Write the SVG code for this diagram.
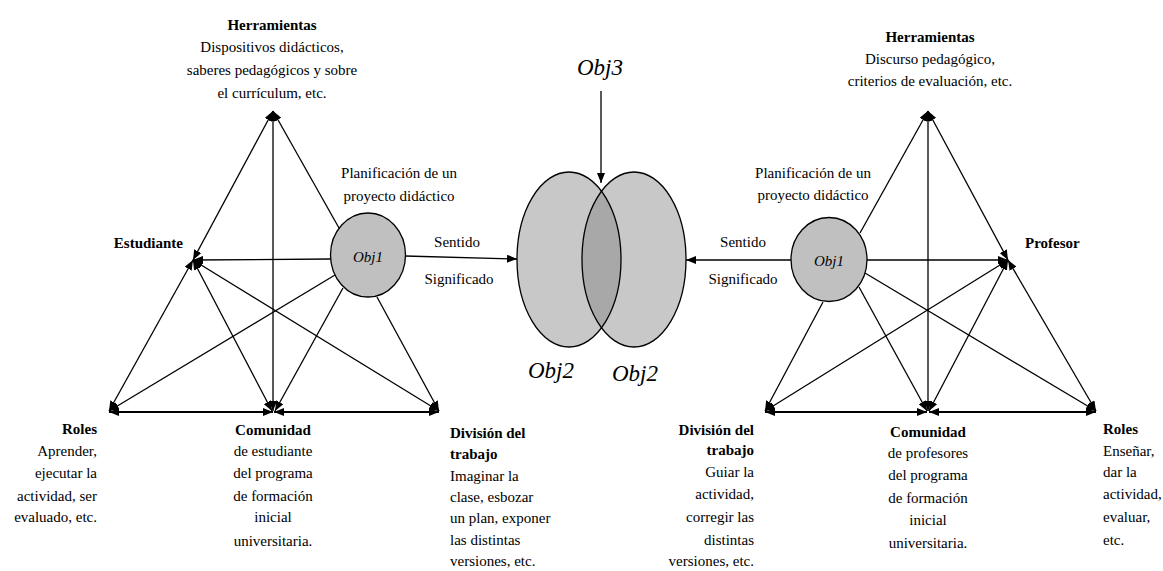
<svg xmlns="http://www.w3.org/2000/svg" width="1163" height="571" viewBox="0 0 1163 571" font-family="'Liberation Serif', Tinos, 'Times New Roman', Times, 'DejaVu Serif', serif">
<style>
text{font-family:'Liberation Serif', Tinos, 'Times New Roman', Times, 'DejaVu Serif', serif;font-size:15px;fill:#000}
.b{font-weight:bold}
.i{font-style:italic}
.big{font-size:23px;font-style:italic}
.c{text-anchor:middle}
.e{text-anchor:end}
.ln{stroke:#000;stroke-width:1.3;fill:none}
.bl{stroke:#000;stroke-width:2;fill:none}
.obj1{fill:#c0c0c0;stroke:#000;stroke-width:1.3}
</style>
<defs>
<marker id="ah" viewBox="0 0 10 8" refX="10" refY="4" markerWidth="10" markerHeight="8" markerUnits="userSpaceOnUse" orient="auto-start-reverse">
<path d="M0,0 L10,4 L0,8 z" fill="#000"/>
</marker>
<clipPath id="clipL"><ellipse cx="569" cy="259.5" rx="52" ry="87.5"/></clipPath>
</defs>
<rect width="1163" height="571" fill="#fff"/>

<g id="connectors">
<line class="ln" x1="273" y1="111" x2="193" y2="260" marker-start="url(#ah)" marker-end="url(#ah)"/>
<line class="ln" x1="273" y1="111" x2="273" y2="411" marker-start="url(#ah)" marker-end="url(#ah)"/>
<line class="ln" x1="339" y1="228" x2="273" y2="111" marker-end="url(#ah)"/>
<line class="ln" x1="331" y1="259" x2="193" y2="260" marker-end="url(#ah)"/>
<line class="ln" x1="193" y1="260" x2="109" y2="411" marker-start="url(#ah)" marker-end="url(#ah)"/>
<line class="ln" x1="193" y1="260" x2="272" y2="411" marker-start="url(#ah)" marker-end="url(#ah)"/>
<line class="ln" x1="193" y1="260" x2="439" y2="411" marker-start="url(#ah)" marker-end="url(#ah)"/>
<line class="ln" x1="335" y1="275" x2="109" y2="411" marker-end="url(#ah)"/>
<line class="ln" x1="343" y1="288" x2="275" y2="411" marker-end="url(#ah)"/>
<line class="ln" x1="377" y1="297" x2="439" y2="411" marker-end="url(#ah)"/>
<line class="bl" x1="109" y1="412" x2="273" y2="412" marker-start="url(#ah)" marker-end="url(#ah)"/>
<line class="bl" x1="274" y1="412" x2="439" y2="412" marker-start="url(#ah)" marker-end="url(#ah)"/>
<line class="ln" x1="928" y1="111" x2="1008" y2="260" marker-start="url(#ah)" marker-end="url(#ah)"/>
<line class="ln" x1="928" y1="111" x2="928" y2="411" marker-start="url(#ah)" marker-end="url(#ah)"/>
<line class="ln" x1="860" y1="233" x2="928" y2="111" marker-end="url(#ah)"/>
<line class="ln" x1="867" y1="260" x2="1008" y2="260" marker-end="url(#ah)"/>
<line class="ln" x1="1008" y1="260" x2="765" y2="411" marker-start="url(#ah)" marker-end="url(#ah)"/>
<line class="ln" x1="1008" y1="260" x2="929" y2="411" marker-start="url(#ah)" marker-end="url(#ah)"/>
<line class="ln" x1="1008" y1="260" x2="1096" y2="411" marker-start="url(#ah)" marker-end="url(#ah)"/>
<line class="ln" x1="823" y1="302" x2="765" y2="411" marker-end="url(#ah)"/>
<line class="ln" x1="859" y1="287" x2="927" y2="411" marker-end="url(#ah)"/>
<line class="ln" x1="865" y1="273" x2="1096" y2="411" marker-end="url(#ah)"/>
<line class="bl" x1="765" y1="412" x2="927" y2="412" marker-start="url(#ah)" marker-end="url(#ah)"/>
<line class="bl" x1="929" y1="412" x2="1096" y2="412" marker-start="url(#ah)" marker-end="url(#ah)"/>
<line class="ln" x1="405" y1="256" x2="517" y2="259" marker-end="url(#ah)"/>
<line class="ln" x1="791" y1="260" x2="686" y2="260" marker-end="url(#ah)"/>
<line class="ln" x1="601" y1="91" x2="601" y2="183" marker-end="url(#ah)"/>
</g>

<g id="obj2-venn">
<ellipse cx="569" cy="259.5" rx="52" ry="87.5" fill="#c8c8c8"/>
<ellipse cx="634" cy="259.5" rx="52" ry="87.5" fill="#c8c8c8"/>
<ellipse cx="634" cy="259.5" rx="52" ry="87.5" fill="#a8a8a8" clip-path="url(#clipL)"/>
<ellipse cx="569" cy="259.5" rx="52" ry="87.5" class="ln"/>
<ellipse cx="634" cy="259.5" rx="52" ry="87.5" class="ln"/>
<text class="big c" x="551" y="378">Obj2</text>
<text class="big c" x="635" y="381">Obj2</text>
</g>
<g id="obj3"><text class="big c" x="600" y="75">Obj3</text></g>

<g id="left-obj1">
<ellipse class="obj1" cx="368" cy="255" rx="37.5" ry="42"/>
<text class="i c" x="368" y="262">Obj1</text>
<text class="c" x="399" y="178">Planificación de un</text>
<text class="c" x="399" y="201">proyecto didáctico</text>
</g>
<g id="left-sentido">
<text class="c" x="457" y="247">Sentido</text>
<text class="c" x="459" y="284">Significado</text>
</g>
<g id="left-herramientas">
<text class="b c" x="272" y="30">Herramientas</text>
<text class="c" x="272" y="52">Dispositivos didácticos,</text>
<text class="c" x="272" y="75">saberes pedagógicos y sobre</text>
<text class="c" x="272" y="98">el currículum, etc.</text>
</g>
<g id="left-estudiante"><text class="b e" x="183" y="248">Estudiante</text></g>
<g id="left-roles">
<text class="b e" x="97" y="434">Roles</text>
<text class="e" x="97" y="456">Aprender,</text>
<text class="e" x="97" y="478">ejecutar la</text>
<text class="e" x="97" y="501">actividad, ser</text>
<text class="e" x="97" y="522">evaluado, etc.</text>
</g>
<g id="left-comunidad">
<text class="b c" x="273" y="435">Comunidad</text>
<text class="c" x="273" y="456">de estudiante</text>
<text class="c" x="273" y="478">del programa</text>
<text class="c" x="273" y="501">de formación</text>
<text class="c" x="273" y="522">inicial</text>
<text class="c" x="273" y="546">universitaria.</text>
</g>
<g id="left-division">
<text class="b" x="450" y="438">División del</text>
<text class="b" x="450" y="459">trabajo</text>
<text x="450" y="481">Imaginar la</text>
<text x="450" y="502">clase, esbozar</text>
<text x="450" y="523">un plan, exponer</text>
<text x="450" y="545">las distintas</text>
<text x="450" y="566">versiones, etc.</text>
</g>

<g id="right-obj1">
<ellipse class="obj1" cx="829" cy="259.5" rx="38" ry="42"/>
<text class="i c" x="829" y="266">Obj1</text>
<text class="c" x="813" y="178">Planificación de un</text>
<text class="c" x="813" y="200">proyecto didáctico</text>
</g>
<g id="right-sentido">
<text class="c" x="743" y="247">Sentido</text>
<text class="c" x="743" y="284">Significado</text>
</g>
<g id="right-herramientas">
<text class="b c" x="930" y="42">Herramientas</text>
<text class="c" x="930" y="64">Discurso pedagógico,</text>
<text class="c" x="930" y="86">criterios de evaluación, etc.</text>
</g>
<g id="right-profesor"><text class="b" x="1025" y="248">Profesor</text></g>
<g id="right-division">
<text class="b e" x="754" y="435">División del</text>
<text class="b e" x="754" y="455">trabajo</text>
<text class="e" x="754" y="477">Guiar la</text>
<text class="e" x="754" y="499">actividad,</text>
<text class="e" x="754" y="522">corregir las</text>
<text class="e" x="754" y="545">distintas</text>
<text class="e" x="754" y="566">versiones, etc.</text>
</g>
<g id="right-comunidad">
<text class="b c" x="928" y="437">Comunidad</text>
<text class="c" x="928" y="458">de profesores</text>
<text class="c" x="928" y="480">del programa</text>
<text class="c" x="928" y="503">de formación</text>
<text class="c" x="928" y="525">inicial</text>
<text class="c" x="928" y="548">universitaria.</text>
</g>
<g id="right-roles">
<text class="b" x="1103" y="434">Roles</text>
<text x="1103" y="456">Enseñar,</text>
<text x="1103" y="477">dar la</text>
<text x="1103" y="499">actividad,</text>
<text x="1103" y="522">evaluar,</text>
<text x="1103" y="545">etc.</text>
</g>
</svg>
